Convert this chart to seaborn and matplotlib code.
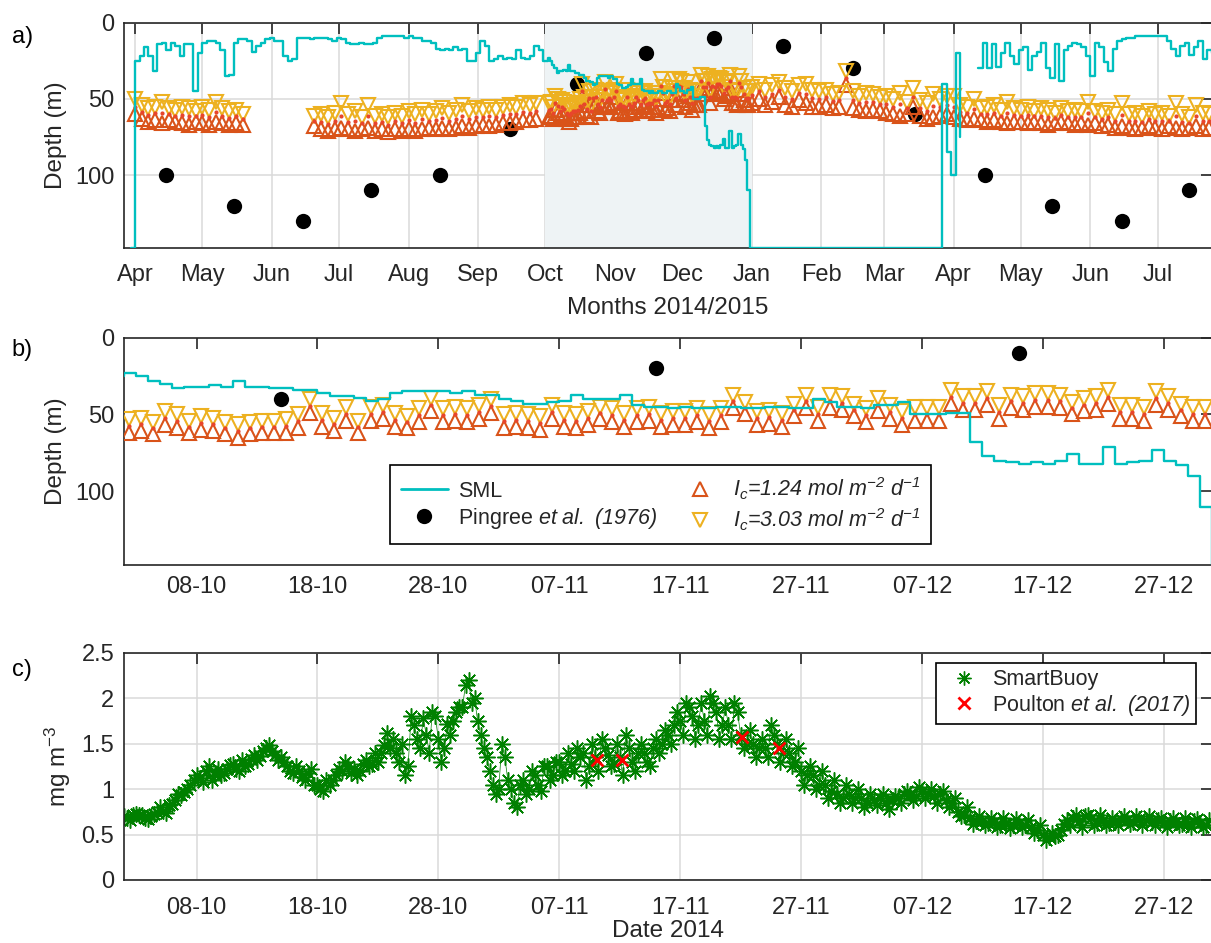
import matplotlib

matplotlib.use("Agg")
import matplotlib.dates as mdates
import matplotlib.pyplot as plt
import numpy as np
import pandas as pd
import seaborn as sns
from matplotlib.lines import Line2D

# =========================
# DATA
# =========================
# surface mixed layer depth (m)
# every 2 days from 2014-03-30
sml_2014 = [
    148, 25, 22, 16, 22, 32, 14, 13, 18, 13,
    15, 22, 14, 14, 45, 20, 13, 12, 12, 13,
    18, 35, 34, 13, 11, 11, 12, 19, 15, 13,
    11, 10, 12, 12, 22, 25, 24, 10, 10, 10,
    11, 10, 10, 10, 11, 12, 10, 11, 13, 14,
    14, 13, 14, 14, 13, 10, 9, 9, 9, 9,
    9, 10, 9, 10, 10, 12, 12, 13, 17, 18,
    17, 18, 16, 18, 17, 25, 25, 20, 12, 15,
    25, 24, 22, 24, 23, 24, 18, 23, 24, 22,
    15, 18, 25,
]
# daily from 2014-10-02
sml_autumn = [
    23, 25, 28, 30, 33, 32, 32, 31, 32, 28,
    32, 32, 33, 33, 34, 34, 36, 38, 38, 39,
    41, 40, 36, 35, 35, 35, 35, 36, 35, 37,
    37, 40, 41, 43, 43, 42, 41, 37, 40, 40,
    40, 37, 44, 45, 45, 46, 45, 46, 46, 45,
    45, 46, 46, 45, 45, 46, 46, 40, 42, 45,
    45, 46, 44, 44, 42, 50, 50, 50, 49, 49,
    68, 77, 80, 81, 82, 81, 82, 80, 76, 82,
    82, 71, 82, 81, 80, 73, 80, 83, 90, 110,
    148,
]
# every 2 days from 2015-03-25 (nan = no data)
sml_2015 = [
    148, 40, 85, 100, 20, 75, np.nan, np.nan, np.nan, 30,
    13, 30, 14, 29, 20, 13, 22, 27, 18, 16,
    31, 22, 19, 13, 30, 36, 14, 38, 18, 15,
    13, 14, 16, 22, 35, 13, 16, 26, 32, 17,
    12, 11, 10, 10, 9, 9, 9, 9, 9, 9,
    9, 12, 17, 22, 15, 13, 21, 16, 12, 24,
    18, 20,
]

# compensation depth (m), Ic = 1.24 and Ic = 3.03 mol m-2 d-1
# every 3 days from 2014-04-01
ic124_spring14 = [60, 63, 65, 64, 66, 64, 65, 66, 67, 65, 66, 67, 65, 66, 67, 66, 67]
ic303_spring14 = [50, 54, 56, 55, 52, 56, 57, 55, 56, 58, 55, 57, 52, 56, 58, 57, 60]
# every 3 days from 2014-06-20
ic124_summer14 = [
    68, 70, 71, 70, 69, 70, 71, 70, 69, 71,
    70, 72, 70, 71, 70, 71, 70, 69, 70, 69,
    70, 69, 68, 69, 68, 67, 68, 67, 66, 66,
    65, 64, 64, 63,
]
ic303_summer14 = [
    61, 60, 62, 59, 53, 60, 58, 62, 54, 61,
    60, 62, 59, 61, 58, 60, 57, 60, 58, 56,
    59, 57, 54, 58, 56, 57, 55, 57, 55, 54,
    55, 53, 54, 53,
]
# daily from 2014-10-02
ic124_autumn = [
    62, 61, 63, 57, 59, 62, 60, 61, 63, 65,
    63, 62, 62, 62, 59, 49, 58, 61, 54, 62,
    54, 53, 58, 59, 55, 48, 55, 54, 55, 53,
    49, 59, 58, 59, 60, 53, 58, 59, 57, 53,
    55, 58, 55, 54, 58, 57, 57, 55, 59, 55,
    46, 50, 57, 56, 58, 51, 46, 54, 46, 47,
    51, 55, 48, 53, 57, 54, 54, 54, 43, 47,
    47, 44, 53, 46, 47, 45, 45, 46, 50, 48,
    47, 43, 53, 53, 54, 44, 47, 51, 54, 54,
]
ic303_autumn = [
    53, 52, 55, 48, 50, 54, 51, 52, 55, 56,
    55, 54, 54, 53, 50, 40, 49, 52, 45, 54,
    45, 44, 49, 51, 46, 39, 46, 45, 46, 44,
    40, 50, 49, 50, 51, 44, 49, 50, 48, 45,
    46, 49, 46, 45, 49, 48, 48, 46, 50, 46,
    37, 42, 48, 47, 49, 43, 37, 45, 37, 38,
    43, 46, 39, 44, 48, 45, 45, 45, 34, 38,
    38, 35, 44, 37, 38, 36, 36, 37, 42, 39,
    38, 34, 44, 44, 45, 35, 38, 43, 45, 45,
]
# every 3 days from 2015-01-01
ic124_2015 = [
    53, 50, 54, 52, 49, 54, 55, 51, 53, 55,
    55, 54, 56, 55, 41, 56, 57, 58, 57, 58,
    59, 60, 61, 60, 55, 61, 63, 62, 61, 60,
    62, 63, 64, 63, 64, 65, 64, 65, 66, 65,
    65, 66, 65, 66, 67, 66, 65, 66, 67, 66,
    67, 66, 68, 67, 69, 68, 69, 70, 69, 68,
    69, 70, 68, 69, 70, 69, 68, 70, 69,
]
ic303_2015 = [
    42, 40, 44, 41, 39, 43, 45, 41, 40, 44,
    45, 44, 47, 46, 32, 45, 48, 46, 47, 49,
    48, 50, 46, 52, 43, 51, 53, 47, 50, 48,
    48, 54, 55, 50, 56, 55, 54, 57, 52, 56,
    57, 55, 58, 56, 57, 59, 56, 58, 57, 58,
    52, 58, 59, 57, 60, 53, 60, 59, 61, 58,
    60, 59, 61, 53, 60, 62, 54, 59, 60,
]

# Pingree et al. (1976) climatology
pingree_dates = [
    "2014-04-15", "2014-05-15", "2014-06-15", "2014-07-15", "2014-08-15",
    "2014-09-15", "2014-10-15", "2014-11-15", "2014-12-15", "2015-01-15",
    "2015-02-15", "2015-03-15", "2015-04-15", "2015-05-15", "2015-06-15",
    "2015-07-15",
]
pingree_depth = [100, 120, 130, 110, 100, 70, 40, 20, 10, 15, 30, 60, 100, 120, 130, 110]

# SmartBuoy chlorophyll (mg m-3), four readings a day from 2014-10-02
chl_0000 = [
    0.70, 0.73, 0.67, 0.80, 0.84, 0.97, 1.15, 1.25, 1.15, 1.28,
    1.25, 1.32, 1.48, 1.35, 1.18, 1.10, 1.05, 1.05, 1.20, 1.22,
    1.32, 1.30, 1.45, 1.50, 1.70, 1.60, 1.55, 1.60, 1.90, 2.00,
    1.35, 1.00, 1.00, 1.10, 1.15, 1.25, 1.30, 1.28, 1.40, 1.35,
    1.38, 1.35, 1.30, 1.40, 1.55, 1.60, 1.75, 1.80, 1.75, 1.85,
    1.70, 1.60, 1.50, 1.45, 1.50, 1.40, 1.20, 1.15, 1.05, 0.95,
    0.95, 0.90, 0.88, 0.85, 0.90, 0.95, 0.98, 0.92, 0.88, 0.75,
    0.68, 0.65, 0.64, 0.62, 0.63, 0.58, 0.50, 0.48, 0.66, 0.65,
    0.68, 0.66, 0.64, 0.66, 0.67, 0.64, 0.63, 0.64, 0.62, 0.63,
]
chl_0600 = [
    0.68, 0.71, 0.70, 0.76, 0.88, 1.00, 1.12, 1.10, 1.18, 1.22,
    1.28, 1.36, 1.42, 1.30, 1.25, 1.18, 1.00, 1.10, 1.30, 1.15,
    1.25, 1.40, 1.55, 1.15, 1.55, 1.40, 1.30, 1.75, 2.15, 1.75,
    1.20, 1.50, 0.85, 0.95, 1.05, 1.10, 1.15, 1.20, 1.10, 1.20,
    1.25, 1.15, 1.20, 1.30, 1.40, 1.50, 1.60, 1.55, 1.60, 1.55,
    1.55, 1.45, 1.35, 1.35, 1.30, 1.25, 1.05, 1.00, 0.90, 0.85,
    0.85, 0.80, 0.82, 0.78, 0.85, 0.88, 0.90, 0.85, 0.80, 0.70,
    0.62, 0.60, 0.58, 0.57, 0.58, 0.52, 0.44, 0.50, 0.60, 0.58,
    0.60, 0.60, 0.61, 0.62, 0.60, 0.60, 0.58, 0.60, 0.58, 0.58,
]
chl_1200 = [
    0.66, 0.72, 0.73, 0.74, 0.95, 1.05, 1.08, 1.15, 1.22, 1.20,
    1.33, 1.42, 1.38, 1.25, 1.20, 1.22, 0.98, 1.15, 1.25, 1.20,
    1.28, 1.48, 1.40, 1.25, 1.45, 1.85, 1.45, 1.85, 2.20, 1.60,
    1.05, 1.35, 0.80, 1.00, 0.98, 1.15, 1.20, 1.45, 1.25, 1.55,
    1.28, 1.60, 1.40, 1.25, 1.50, 1.70, 1.95, 1.70, 2.02, 1.70,
    1.95, 1.50, 1.45, 1.70, 1.40, 1.30, 1.15, 1.05, 0.98, 0.90,
    0.90, 0.85, 0.90, 0.88, 0.95, 0.92, 0.95, 0.95, 0.85, 0.72,
    0.65, 0.63, 0.60, 0.60, 0.61, 0.55, 0.47, 0.55, 0.68, 0.70,
    0.63, 0.63, 0.67, 0.64, 0.66, 0.66, 0.65, 0.62, 0.65, 0.61,
]
chl_1800 = [
    0.72, 0.68, 0.75, 0.82, 0.93, 1.10, 1.20, 1.22, 1.27, 1.32,
    1.38, 1.45, 1.32, 1.20, 1.13, 1.05, 1.10, 1.22, 1.18, 1.28,
    1.40, 1.62, 1.30, 1.80, 1.78, 1.80, 1.72, 1.90, 1.95, 1.45,
    0.95, 1.10, 1.05, 1.20, 1.25, 1.30, 1.40, 1.35, 1.50, 1.45,
    1.50, 1.45, 1.50, 1.45, 1.65, 1.85, 1.90, 1.95, 1.95, 1.90,
    1.85, 1.65, 1.55, 1.60, 1.55, 1.45, 1.25, 1.20, 1.10, 1.05,
    1.00, 0.95, 0.95, 0.92, 0.98, 1.02, 1.00, 0.98, 0.90, 0.80,
    0.70, 0.68, 0.68, 0.67, 0.66, 0.60, 0.52, 0.62, 0.72, 0.72,
    0.72, 0.68, 0.70, 0.70, 0.70, 0.68, 0.68, 0.68, 0.67, 0.66,
]

# Poulton et al. (2017)
poulton_dates = ["2014-11-10 04:00", "2014-11-12 04:00", "2014-11-22 02:00", "2014-11-25 05:00"]
poulton_chl = [1.32, 1.32, 1.57, 1.45]

# =========================
# series
# =========================
def regular(values, start, step):
    idx = pd.date_range(start, periods=len(values), freq=step)
    return pd.Series(values, index=idx, dtype=float)


sml = pd.concat([
    regular(sml_2014, "2014-03-30", "2D"),
    regular(sml_autumn, "2014-10-02", "D"),
    regular(sml_2015, "2015-03-25", "2D"),
])
sml_df = pd.DataFrame({"date": sml.index, "depth": sml.values})
sml_df["seg"] = sml_df["depth"].isna().cumsum()

ic124 = pd.concat([
    regular(ic124_spring14, "2014-04-01", "3D"),
    regular(ic124_summer14, "2014-06-20", "3D"),
    regular(ic124_autumn, "2014-10-02 09:30", "D"),
    regular(ic124_2015, "2015-01-01", "3D"),
])
ic303 = pd.concat([
    regular(ic303_spring14, "2014-04-01", "3D"),
    regular(ic303_summer14, "2014-06-20", "3D"),
    regular(ic303_autumn, "2014-10-02 09:30", "D"),
    regular(ic303_2015, "2015-01-01", "3D"),
])
ic_mid = (ic124 + ic303) / 2

pingree = pd.Series(pingree_depth, index=pd.to_datetime(pingree_dates), dtype=float)

chl = pd.concat([
    regular(chl_0000, "2014-10-02 00:00", "D"),
    regular(chl_0600, "2014-10-02 06:00", "D"),
    regular(chl_1200, "2014-10-02 12:00", "D"),
    regular(chl_1800, "2014-10-02 18:00", "D"),
]).sort_index()
poulton = pd.Series(poulton_chl, index=pd.to_datetime(poulton_dates))

# =========================
# style
# =========================
sns.set_style("white")
plt.rcParams["font.family"] = ["Liberation Sans", "DejaVu Sans"]
plt.rcParams["mathtext.fontset"] = "custom"
plt.rcParams["mathtext.rm"] = "Liberation Sans"
plt.rcParams["mathtext.it"] = "Liberation Sans:italic"
plt.rcParams["mathtext.sf"] = "Liberation Sans:italic"
plt.rcParams["mathtext.bf"] = "Liberation Sans:bold"

CYAN = "#00BFBF"
ORANGE = "#D95319"
YELLOW = "#EDB120"
GREEN = "#008000"
DARK = "#262626"
ASTER = (8, 2, 0)

W, H = 1211, 943
fig = plt.figure(figsize=(W / 100, H / 100), dpi=100)
ax_a = fig.add_axes([124 / W, 1 - 248.3 / H, 1088 / W, 225.6 / H])
ax_b = fig.add_axes([124 / W, 1 - 565 / H, 1088 / W, 227.3 / H])
ax_c = fig.add_axes([124 / W, 1 - 880 / H, 1088 / W, 227.3 / H])


def depth_panel(ax):
    sns.lineplot(data=sml_df, x="date", y="depth", units="seg", estimator=None,
                 color=CYAN, lw=1.7, drawstyle="steps-post", ax=ax, zorder=4)
    sns.lineplot(x=pingree.index, y=pingree.values, estimator=None, ax=ax,
                 linestyle="", marker="o", markersize=11, color="k",
                 markeredgecolor="k", markeredgewidth=0, zorder=2.5)
    sns.lineplot(x=ic124.index, y=ic124.values, estimator=None, ax=ax,
                 linestyle="", marker="^", markersize=9.5, markerfacecolor="none",
                 markeredgecolor=ORANGE, markeredgewidth=1.5, color=ORANGE, zorder=3)
    sns.lineplot(x=ic303.index, y=ic303.values, estimator=None, ax=ax,
                 linestyle="", marker="v", markersize=9.5, markerfacecolor="none",
                 markeredgecolor=YELLOW, markeredgewidth=1.5, color=YELLOW, zorder=3.1)
    sns.lineplot(x=ic_mid.index, y=ic_mid.values, estimator=None, ax=ax,
                 linestyle="", marker="o", markersize=3, color="#E8452C",
                 markeredgecolor="#E8452C", markeredgewidth=0, zorder=3.2)
    ax.set_ylim(148, 0)
    ax.set_yticks([0, 50, 100])


# a) whole record
depth_panel(ax_a)
ax_a.axvspan(pd.Timestamp("2014-10-01"), pd.Timestamp("2015-01-01"),
             color="#EEF3F5", lw=0, zorder=0.8)
ax_a.set_xlim(pd.Timestamp("2014-03-27 02:00"), pd.Timestamp("2015-07-25 05:00"))
ax_a.xaxis.set_major_locator(mdates.MonthLocator())
ax_a.xaxis.set_major_formatter(mdates.DateFormatter("%b"))
ax_a.grid(True, color="#dadada", lw=1.1)
ax_a.set_axisbelow(True)

# b) autumn zoom
depth_panel(ax_b)
ax_b.grid(False)

# c) chlorophyll
sns.lineplot(x=chl.index, y=chl.values, estimator=None, ax=ax_c, color=GREEN,
             lw=0.5, marker=ASTER, markersize=11.5, markeredgecolor=GREEN,
             markeredgewidth=1.1, zorder=2)
sns.lineplot(x=poulton.index, y=poulton.values, estimator=None, ax=ax_c,
             linestyle="", marker="x", markersize=9, color="red",
             markeredgecolor="red", markeredgewidth=2, zorder=3)
ax_c.set_ylim(0, 2.5)
ax_c.set_yticks([0, 0.5, 1, 1.5, 2, 2.5])
ax_c.set_yticklabels(["0", "0.5", "1", "1.5", "2", "2.5"])
ax_c.grid(True, color="#dadada", lw=1.1)
ax_c.set_axisbelow(True)

for ax in (ax_b, ax_c):
    ax.set_xlim(pd.Timestamp("2014-10-02"), pd.Timestamp("2014-12-31"))
    ax.set_xticks(pd.date_range("2014-10-08", periods=9, freq="10D"))
    ax.xaxis.set_major_formatter(mdates.DateFormatter("%d-%m"))

for ax, xpad in ((ax_a, 11), (ax_b, 8), (ax_c, 12)):
    ax.set_xlabel("")
    ax.set_ylabel("")
    for sp in ax.spines.values():
        sp.set_color(DARK)
        sp.set_linewidth(1.2)
    ax.tick_params(direction="in", length=8, width=1.2, top=True, right=True,
                   labelsize=17, color=DARK, labelcolor=DARK)
    ax.tick_params(axis="x", pad=xpad)
    ax.tick_params(axis="y", pad=7)

# legends
handles_b = [
    Line2D([], [], color=CYAN, lw=2),
    Line2D([], [], ls="", marker="o", color="k", ms=11, mew=0),
    Line2D([], [], ls="", marker="^", mfc="none", mec=ORANGE, mew=1.5, ms=9.5),
    Line2D([], [], ls="", marker="v", mfc="none", mec=YELLOW, mew=1.5, ms=9.5),
]
labels_b = [
    "SML",
    r"Pingree $\mathsf{et\ al.\ (1976)}$",
    r"$\mathsf{I_c}$=1.24 mol m$^{\mathsf{-2}}$ d$^{\mathsf{-1}}$",
    r"$\mathsf{I_c}$=3.03 mol m$^{\mathsf{-2}}$ d$^{\mathsf{-1}}$",
]
leg_b = ax_b.legend(handles_b, labels_b, ncol=2, loc="upper left",
                    bbox_to_anchor=(390 / W, 1 - 465 / H), bbox_transform=fig.transFigure,
                    borderaxespad=0, fancybox=False, edgecolor="k", framealpha=1,
                    fontsize=15.5, handlelength=2.2, handletextpad=0.45,
                    columnspacing=0.9, borderpad=0.5, labelspacing=0.2)
leg_b.get_frame().set_linewidth(1.2)
for t in leg_b.get_texts()[2:]:
    t.set_fontstyle("italic")

handles_c = [
    Line2D([], [], ls="", marker=ASTER, mec=GREEN, ms=10, mew=1.0),
    Line2D([], [], ls="", marker="x", mec="red", ms=9, mew=2),
]
labels_c = ["SmartBuoy", r"Poulton $\mathsf{et\ al.\ (2017)}$"]
leg_c = ax_c.legend(handles_c, labels_c, loc="upper left",
                    bbox_to_anchor=(936 / W, 1 - 663 / H), bbox_transform=fig.transFigure,
                    borderaxespad=0, fancybox=False, edgecolor="k", framealpha=1,
                    fontsize=15.5, handlelength=2.0, handletextpad=0.3,
                    borderpad=0.3, labelspacing=0.1)
leg_c.get_frame().set_linewidth(1.2)

# texts
fig.text(23 / W, 1 - 37 / H, "a)", fontsize=17, ha="center", va="center", color="k")
fig.text(22 / W, 1 - 350 / H, "b)", fontsize=17, ha="center", va="center", color="k")
fig.text(22 / W, 1 - 670 / H, "c)", fontsize=17, ha="center", va="center", color="k")
fig.text(56 / W, 1 - 135.5 / H, "Depth (m)", rotation=90, fontsize=17.5,
         ha="center", va="center", color=DARK)
fig.text(56 / W, 1 - 451.5 / H, "Depth (m)", rotation=90, fontsize=17.5,
         ha="center", va="center", color=DARK)
fig.text(57.5 / W, 1 - 766.5 / H, r"mg m$^{-3}$", rotation=90, fontsize=17.5,
         ha="center", va="center", color=DARK)
fig.text(668 / W, 1 - 308 / H, "Months 2014/2015", fontsize=17.5,
         ha="center", va="center", color=DARK)
fig.text(668 / W, 1 - 931 / H, "Date 2014", fontsize=17.5,
         ha="center", va="center", color=DARK)

fig.savefig("out.png", dpi=100)
